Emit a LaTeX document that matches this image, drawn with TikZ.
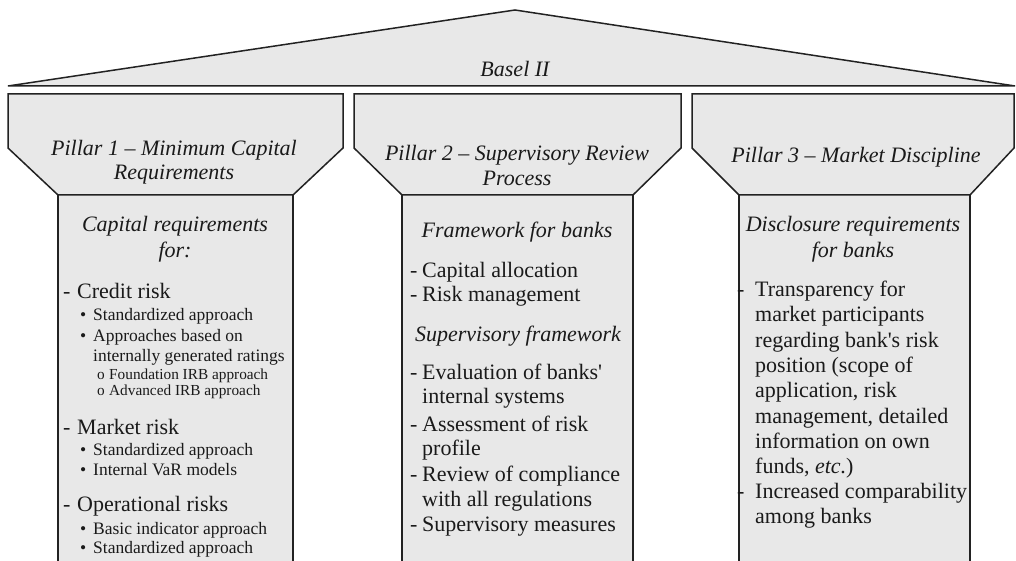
\documentclass[tikz,border=0pt]{standalone}
\usepackage{fontspec}
\setmainfont{Liberation Serif}
\definecolor{fillgray}{HTML}{E8E8E8}
\definecolor{linecol}{HTML}{222222}
\definecolor{txtcol}{HTML}{1A1A1A}
\tikzset{
  pshape/.style={draw=linecol, fill=fillgray, line width=1.5pt, line join=miter},
  pedge/.style={draw=linecol, line width=1.5pt},
  body/.style={anchor=base west, inner sep=0pt, text=txtcol, font=\fontsize{22}{25}\selectfont},
  ital/.style={anchor=base, inner sep=0pt, text=txtcol, font=\fontsize{22}{25}\selectfont\itshape},
  bul/.style={anchor=base west, inner sep=0pt, text=txtcol, font=\fontsize{17.5}{20}\selectfont},
  subb/.style={anchor=base west, inner sep=0pt, text=txtcol, font=\fontsize{15.3}{18}\selectfont},
}
\begin{document}
\begin{tikzpicture}[x=1pt,y=-1pt]
\useasboundingbox (0,0) rectangle (1016,561);
\fill[white] (0,0) rectangle (1016,561);
% roof
\path[pshape] (8,86) -- (515,10) -- (1015,86) -- cycle;
\node[ital] (basel) at (515,77) {Basel II};
% pillar 1
\fill[fillgray] (58,195) rectangle (293,562);
\draw[pedge] (58,562) -- (58,195);
\draw[pedge] (293,562) -- (293,195);
\path[pshape] (8,94) -- (343,94) -- (343,148) -- (293,195) -- (58,195) -- (8,148) -- cycle;
% pillar 2
\fill[fillgray] (402,195) rectangle (633,562);
\draw[pedge] (402,562) -- (402,195);
\draw[pedge] (633,562) -- (633,195);
\path[pshape] (354,94) -- (681,94) -- (681,148) -- (633,195) -- (402,195) -- (354,148) -- cycle;
% pillar 3
\fill[fillgray] (739,195) rectangle (970,562);
\draw[pedge] (739,562) -- (739,195);
\draw[pedge] (970,562) -- (970,195);
\path[pshape] (692,94) -- (1014,94) -- (1014,148) -- (970,195) -- (739,195) -- (692,148) -- cycle;

% ---- Pillar 1 texts
\node[ital] (h1a) at (174,156) {Pillar 1 – Minimum Capital};
\node[ital] (h1b) at (174,180) {Requirements};
\node[ital] (b1a) at (175,232) {Capital requirements};
\node[ital] (b1b) at (175,257) {for:};
\node[body] (d1) at (63,298) {-};
\node[body] (c1) at (77,298) {Credit risk};
\node[bul] (c1b1m) at (80,320) {•};
\node[bul] (c1b1) at (93,320) {Standardized approach};
\node[bul] (c1b2m) at (80,341) {•};
\node[bul] (c1b2) at (93,341) {Approaches based on};
\node[bul] (c1b3) at (93,361) {internally generated ratings};
\node[subb] (c1s1m) at (97,379) {o};
\node[subb] (c1s1) at (109,379) {Foundation IRB approach};
\node[subb] (c1s2m) at (97,395) {o};
\node[subb] (c1s2) at (109,395) {Advanced IRB approach};
\node[body] (d2) at (63,434) {-};
\node[body] (c2) at (77,434) {Market risk};
\node[bul] (c2b1m) at (80,455) {•};
\node[bul] (c2b1) at (93,455) {Standardized approach};
\node[bul] (c2b2m) at (80,475) {•};
\node[bul] (c2b2) at (93,475) {Internal VaR models};
\node[body] (d3) at (63,511) {-};
\node[body] (c3) at (77,511) {Operational risks};
\node[bul] (c3b1m) at (80,534) {•};
\node[bul] (c3b1) at (93,534) {Basic indicator approach};
\node[bul] (c3b2m) at (80,553) {•};
\node[bul] (c3b2) at (93,553) {Standardized approach};

% ---- Pillar 2 texts
\node[ital] (h2a) at (517,161) {Pillar 2 – Supervisory Review};
\node[ital] (h2b) at (517,186) {Process};
\node[ital] (b2a) at (517,237) {Framework for banks};
\node[body] (e1m) at (410,277) {-};
\node[body] (e1) at (422,277) {Capital allocation};
\node[body] (e2m) at (410,301) {-};
\node[body] (e2) at (422,301) {Risk management};
\node[ital] (b2b) at (518,341) {Supervisory framework};
\node[body] (e3m) at (410,379) {-};
\node[body] (e3) at (422,379) {Evaluation of banks\textquotesingle};
\node[body] (e3b) at (422,403) {internal systems};
\node[body] (e4m) at (410,431) {-};
\node[body] (e4) at (422,431) {Assessment of risk};
\node[body] (e4b) at (422,455) {profile};
\node[body] (e5m) at (410,481) {-};
\node[body] (e5) at (422,481) {Review of compliance};
\node[body] (e5b) at (422,506) {with all regulations};
\node[body] (e6m) at (410,531) {-};
\node[body] (e6) at (422,531) {Supervisory measures};

% ---- Pillar 3 texts
\node[ital] (h3) at (856,163) {Pillar 3 – Market Discipline};
\node[ital] (b3a) at (853,232) {Disclosure requirements};
\node[ital] (b3b) at (853,257) {for banks};
\node[body] (f1m) at (737,296) {-};
\node[body] (f1) at (755,296) {Transparency for};
\node[body] (f2) at (755,321) {market participants};
\node[body] (f3) at (755,347) {regarding bank\textquotesingle s risk};
\node[body] (f4) at (755,372) {position (scope of};
\node[body] (f5) at (755,397) {application, risk};
\node[body] (f6) at (755,423) {management, detailed};
\node[body] (f7) at (755,448) {information on own};
\node[body] (f8) at (755,473) {funds, \textit{etc.})};
\node[body] (g1m) at (737,498) {-};
\node[body] (g1) at (755,498) {Increased comparability};
\node[body] (g2) at (755,523) {among banks};
\end{tikzpicture}
\end{document}
